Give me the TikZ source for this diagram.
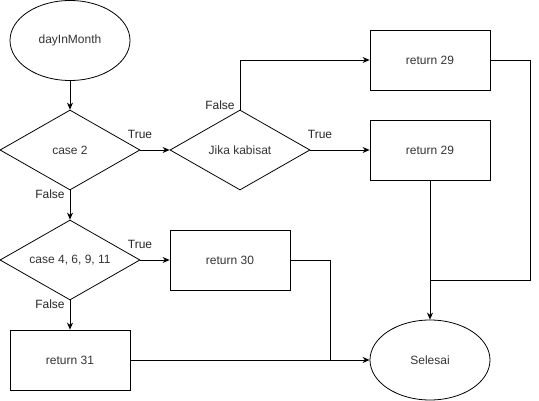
\documentclass[tikz,border=0pt]{standalone}
\usepackage{fontspec}
\setmainfont{Liberation Sans}
\usetikzlibrary{shapes.geometric,arrows.meta}
\begin{document}
\begin{tikzpicture}[x=1pt,y=-1pt,
  every node/.style={font=\fontsize{12}{14}\selectfont, text=black!80},
  proc/.style={draw, line width=0.8pt, minimum width=120pt, minimum height=60pt, inner sep=0pt},
  term/.style={draw, line width=0.8pt, ellipse, minimum width=120pt, minimum height=80pt, inner sep=0pt},
  dec/.style={draw, line width=0.8pt, diamond, minimum width=140pt, minimum height=80pt, inner sep=0pt, aspect=1.75},
  conn/.style={line width=0.8pt, -{Stealth[length=7pt,width=6pt]}},
  line/.style={line width=0.8pt},
  lbl/.style={font=\fontsize{12}{14}\selectfont, text=black!85, inner sep=0pt}]
\useasboundingbox (0,0) rectangle (539,401);
\node[term] (start) at (70,40.5) {dayInMonth};
\node[dec] (c2) at (70,150) {case 2};
\node[dec] (jk) at (240,150) {Jika kabisat};
\node[proc] (r29a) at (430,60) {return 29};
\node[proc] (r29b) at (430,150) {return 29};
\node[dec] (c4) at (70,260) {case 4, 6, 9, 11};
\node[proc] (r30) at (230,260) {return 30};
\node[proc] (r31) at (70,360) {return 31};
\node[term] (end) at (430,360) {Selesai};
\coordinate (k1) at (240,60);
\coordinate (m1) at (530,60);
\coordinate (m2) at (530,280);
\coordinate (m3) at (430,280);
\coordinate (j1) at (330,260);
\coordinate (j2) at (330,360);
\draw[conn] (start) -- (c2);
\draw[conn] (c2.east) -- (jk.west);
\draw[conn] (jk.north) -- (k1) -- (r29a.west);
\draw[conn] (jk.east) -- (r29b.west);
\draw[conn] (c2.south) -- (c4.north);
\draw[conn] (c4.east) -- (r30.west);
\draw[conn] (c4.south) -- (r31.north);
\draw[conn] (r31.east) -- (end.west);
\draw[line] (r30.east) -- (j1) -- (j2);
\draw[line] (r29a.east) -- (m1) -- (m2) -- (m3);
\draw[conn] (r29b.south) -- (end.north);
\node[lbl] at (140,134) {True};
\node[lbl] at (50,194) {False};
\node[lbl] at (220,105) {False};
\node[lbl] at (320,134) {True};
\node[lbl] at (140,244) {True};
\node[lbl] at (50,304) {False};
\end{tikzpicture}
\end{document}
